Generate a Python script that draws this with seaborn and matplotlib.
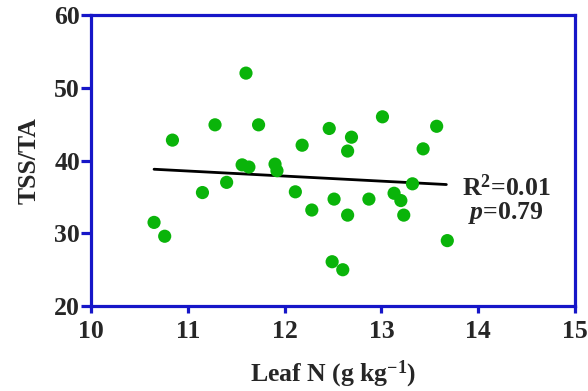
import matplotlib
matplotlib.use("Agg")
import matplotlib.pyplot as plt
import seaborn as sns
import pandas as pd

leaf_n = [11.60, 11.28, 11.73, 10.84, 12.18, 12.46, 11.56, 11.63, 11.90, 11.92,
          11.40, 11.15, 12.11, 12.28, 12.51, 10.65, 10.76, 12.49, 12.60, 13.01,
          13.57, 12.69, 12.65, 13.43, 13.32, 13.13, 13.20, 13.23, 12.87, 12.65, 13.68]
tss_ta = [52.0, 44.9, 44.9, 42.8, 42.1, 44.4, 39.4, 39.1, 39.5, 38.6,
          37.0, 35.6, 35.7, 33.2, 34.7, 31.5, 29.6, 26.1, 25.0, 46.0,
          44.7, 43.2, 41.3, 41.6, 36.8, 35.5, 34.5, 32.5, 34.7, 32.5, 29.0]
fit_x = [10.65, 13.67]
fit_y = [38.8, 36.7]
x_ticks = [10, 11, 12, 13, 14, 15]
y_ticks = [20, 30, 40, 50, 60]

sns.set_theme(style="white")
plt.rcParams["font.family"] = ["Liberation Serif", "DejaVu Serif"]
plt.rcParams["mathtext.fontset"] = "custom"
plt.rcParams["mathtext.rm"] = "Liberation Serif:bold"
plt.rcParams["mathtext.bf"] = "Liberation Serif:bold"
plt.rcParams["mathtext.it"] = "Liberation Serif:italic:bold"

FS = 18.5
fig = plt.figure(figsize=(5.88, 3.91), dpi=100)
ax = fig.add_axes([0.155, 0.217, 0.823, 0.745])

df = pd.DataFrame({"x": leaf_n, "y": tss_ta})
sns.scatterplot(data=df, x="x", y="y", ax=ax, color="#0ab40a", s=90,
                edgecolor="none", zorder=3)
sns.lineplot(x=fit_x, y=fit_y, ax=ax, color="black", linewidth=2.0, zorder=2)

ax.set_xlim(10, 15)
ax.set_ylim(20, 60)
ax.set_xticks(x_ticks)
ax.set_yticks(y_ticks)
ax.set_xticklabels([str(t) for t in x_ticks], fontsize=FS, fontweight="bold")
ax.set_yticklabels([str(t) for t in y_ticks], fontsize=FS, fontweight="bold")

blue = "#1616c8"
for sp in ax.spines.values():
    sp.set_color(blue)
    sp.set_linewidth(2.3)
    sp.set_visible(True)
ax.tick_params(axis="x", direction="out", length=5, width=2.3, color=blue,
               bottom=True, pad=5)
ax.tick_params(axis="y", direction="out", length=7, width=2.3, color=blue,
               left=True, pad=1)

ax.set_xlabel("Leaf N (g kg$^{-1}$)", fontsize=FS, fontweight="bold")
ax.xaxis.set_label_coords(0.5, -0.18)
ax.set_ylabel("TSS/TA", fontsize=FS, fontweight="bold")
ax.yaxis.set_label_coords(-0.105, 0.5)

ax.text(14.29, 36.3, "R$^{2}$=0.01", fontsize=FS, fontweight="bold",
        ha="center", va="center")
ax.text(14.28, 32.8, "$p$=0.79", fontsize=FS, fontweight="bold",
        ha="center", va="center")

fig.savefig("out.png", dpi=100)
